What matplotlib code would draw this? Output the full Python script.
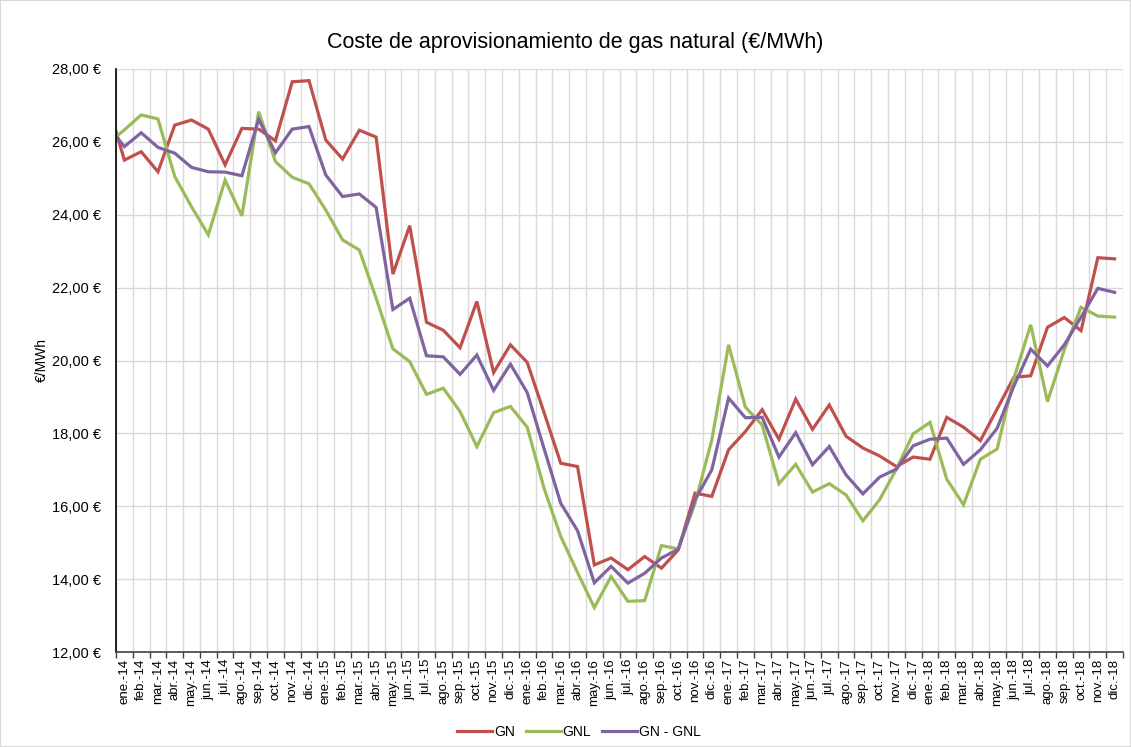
import numpy as np
import matplotlib
matplotlib.use("Agg")
import matplotlib.pyplot as plt
from matplotlib.ticker import FixedLocator, FuncFormatter

plt.rcParams['font.family'] = ['Liberation Sans', 'DejaVu Sans']

# Meses (ene-14 .. dic-18)
abrev = ["ene.", "feb.", "mar.", "abr.", "may.", "jun.",
         "jul.", "ago.", "sep.", "oct.", "nov.", "dic."]
anios = ["14", "15", "16", "17", "18"]
meses = [m + "-" + a for a in anios for m in abrev]

# primer valor = dic-13 (queda fuera del eje, solo se ve el tramo de entrada)
gn = [27.06,
      25.50, 25.73, 25.18, 26.46, 26.60, 26.35, 25.37, 26.37, 26.35, 26.03, 27.65, 27.68,
      26.05, 25.53, 26.32, 26.13, 22.37, 23.70, 21.05, 20.83, 20.35, 21.62, 19.67, 20.43,
      19.95, 18.58, 17.18, 17.09, 14.39, 14.58, 14.26, 14.62, 14.30, 14.80, 16.36, 16.27,
      17.55, 18.05, 18.65, 17.84, 18.94, 18.11, 18.78, 17.92, 17.60, 17.38, 17.09, 17.35,
      17.29, 18.44, 18.17, 17.80, 18.67, 19.54, 19.58, 20.91, 21.18, 20.82, 22.82, 22.79]

gnl = [25.95,
       26.33, 26.74, 26.63, 25.05, 24.22, 23.45, 24.95, 23.97, 26.83, 25.46, 25.03, 24.85,
       24.13, 23.31, 23.03, 21.71, 20.32, 19.97, 19.07, 19.24, 18.60, 17.64, 18.57, 18.74,
       18.17, 16.50, 15.17, 14.18, 13.22, 14.07, 13.39, 13.41, 14.92, 14.83, 16.08, 17.82,
       20.43, 18.72, 18.23, 16.62, 17.15, 16.39, 16.62, 16.31, 15.60, 16.18, 17.02, 17.99,
       18.30, 16.74, 16.04, 17.29, 17.57, 19.51, 20.98, 18.87, 20.29, 21.46, 21.22, 21.19]

gn_gnl = [26.45,
          25.87, 26.25, 25.85, 25.69, 25.30, 25.18, 25.17, 25.07, 26.62, 25.70, 26.35, 26.42,
          25.09, 24.50, 24.57, 24.20, 21.40, 21.71, 20.13, 20.10, 19.62, 20.15, 19.18, 19.90,
          19.12, 17.59, 16.08, 15.33, 13.90, 14.35, 13.89, 14.16, 14.58, 14.82, 16.18, 17.00,
          18.97, 18.43, 18.44, 17.35, 18.02, 17.14, 17.64, 16.86, 16.34, 16.80, 17.02, 17.66,
          17.84, 17.87, 17.15, 17.55, 18.14, 19.30, 20.31, 19.85, 20.43, 21.19, 21.98, 21.87]

series = [("GN", gn, "#C0504D"), ("GNL", gnl, "#9BBB59"), ("GN - GNL", gn_gnl, "#8064A2")]

fig = plt.figure(figsize=(11.31, 7.47), dpi=100)
ax = fig.add_axes([116/1131, 1 - 652/747, (1123 - 116)/1131, (652 - 69)/747])

x = np.arange(-1, len(meses))
for nombre, vals, col in series:
    ax.plot(x, vals, color=col, lw=2.3, label=nombre, solid_joinstyle="miter")

ax.set_xlim(-0.5, len(meses) - 0.5)
ax.set_ylim(12, 28)

# eje x: marcas y rejilla entre categorias, etiquetas centradas
ax.xaxis.set_major_locator(FixedLocator(np.arange(-0.5, len(meses), 1.0)))
ax.xaxis.set_major_formatter(FuncFormatter(lambda v, p: ""))
ax.set_xticks(np.arange(len(meses)), minor=True)
ax.set_xticklabels(meses, minor=True, rotation=90, fontsize=9.5)
ax.tick_params(axis="x", which="minor", length=0, pad=5)
ax.tick_params(axis="x", which="major", length=4, width=1, color="#404040")

ax.set_yticks(np.arange(12, 29, 2))
ax.yaxis.set_major_formatter(FuncFormatter(lambda v, p: ("%.2f €" % v).replace(".", ",")))
ax.tick_params(axis="y", length=0, pad=11, labelsize=10.5)

ax.grid(True, which="major", color="#D9D9D9", lw=1.0)
ax.set_axisbelow(True)
for s in ["top", "right"]:
    ax.spines[s].set_visible(False)
ax.spines["left"].set_color("#000000")
ax.spines["bottom"].set_color("#404040")
ax.spines["left"].set_linewidth(1.2)
ax.spines["bottom"].set_linewidth(1.2)

ax.set_ylabel("€/MWh", fontsize=10, labelpad=2)
fig.text(0.509, 0.943, "Coste de aprovisionamiento de gas natural (€/MWh)",
         ha="center", va="center", fontsize=15.5)

fig.legend(loc="center", bbox_to_anchor=(0.512, 0.02), ncol=3, frameon=False,
           fontsize=10, handlelength=2.5, handletextpad=0.15, columnspacing=0.8)

fig.patches.append(plt.Rectangle((0, 0), 1, 1, transform=fig.transFigure,
                                 fill=False, edgecolor="#D9D9D9", lw=1.5))

fig.savefig("out.png", dpi=100)
